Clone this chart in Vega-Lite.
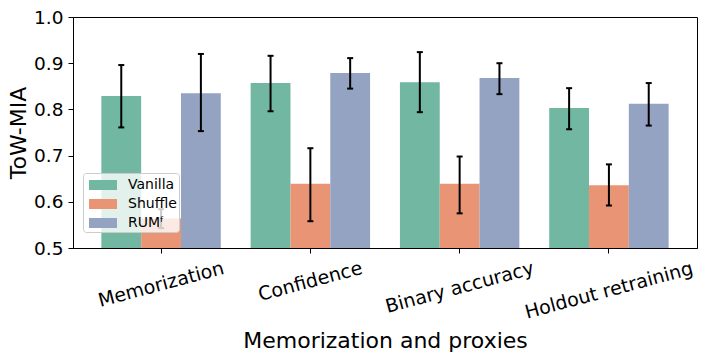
{
  "$schema": "https://vega.github.io/schema/vega-lite/v6.json",
  "width": 624,
  "height": 231,
  "autosize": {"type": "none"},
  "padding": {"left": 73, "top": 17, "right": 10, "bottom": 110},
  "background": "white",
  "config": {
    "font": "DejaVu Sans",
    "view": {"stroke": "black", "strokeWidth": 1},
    "axis": {
      "domainColor": "black",
      "tickColor": "black",
      "labelColor": "black",
      "titleColor": "black",
      "titleFontWeight": "normal",
      "titleFont": "DejaVu Sans",
      "labelFont": "DejaVu Sans",
      "tickSize": 5,
      "grid": false
    }
  },
  "data": {
    "values": [
      {"proxy": "Memorization", "method": "Vanilla", "value": 0.829, "lo": 0.761, "hi": 0.896},
      {"proxy": "Memorization", "method": "Shuffle", "value": 0.564, "lo": 0.543, "hi": 0.584},
      {"proxy": "Memorization", "method": "RUMᶠ", "value": 0.835, "lo": 0.753, "hi": 0.920},
      {"proxy": "Confidence", "method": "Vanilla", "value": 0.857, "lo": 0.796, "hi": 0.916},
      {"proxy": "Confidence", "method": "Shuffle", "value": 0.639, "lo": 0.558, "hi": 0.716},
      {"proxy": "Confidence", "method": "RUMᶠ", "value": 0.879, "lo": 0.845, "hi": 0.911},
      {"proxy": "Binary accuracy", "method": "Vanilla", "value": 0.859, "lo": 0.794, "hi": 0.924},
      {"proxy": "Binary accuracy", "method": "Shuffle", "value": 0.639, "lo": 0.575, "hi": 0.698},
      {"proxy": "Binary accuracy", "method": "RUMᶠ", "value": 0.868, "lo": 0.833, "hi": 0.900},
      {"proxy": "Holdout retraining", "method": "Vanilla", "value": 0.803, "lo": 0.757, "hi": 0.846},
      {"proxy": "Holdout retraining", "method": "Shuffle", "value": 0.636, "lo": 0.592, "hi": 0.681},
      {"proxy": "Holdout retraining", "method": "RUMᶠ", "value": 0.812, "lo": 0.765, "hi": 0.857}
    ]
  },
  "encoding": {
    "x": {
      "field": "proxy",
      "type": "nominal",
      "sort": ["Memorization", "Confidence", "Binary accuracy", "Holdout retraining"],
      "scale": {"paddingInner": 0.2, "paddingOuter": 0.19},
      "axis": {
        "title": "Memorization and proxies",
        "titleFontSize": 22,
        "titleY": 99,
        "titleBaseline": "alphabetic",
        "labelFontSize": 19,
        "labelAngle": -15,
        "labelAlign": "center",
        "labelBaseline": "middle",
        "labelPadding": {"expr": "datum.value == 'Memorization' ? 31 : datum.value == 'Confidence' ? 28 : datum.value == 'Binary accuracy' ? 34 : 37"}
      }
    },
    "xOffset": {
      "field": "method",
      "type": "nominal",
      "sort": ["Vanilla", "Shuffle", "RUMᶠ"],
      "scale": {"paddingInner": 0, "paddingOuter": 0}
    }
  },
  "layer": [
    {
      "mark": {"type": "bar", "opacity": 1},
      "encoding": {
        "y": {
          "field": "value",
          "type": "quantitative",
          "scale": {"domain": [0.5, 1.0], "zero": false},
          "axis": {
            "title": "ToW-MIA",
            "titleFontSize": 22,
            "titleX": -48,
            "titleBaseline": "alphabetic",
            "values": [0.5, 0.6, 0.7, 0.8, 0.9, 1.0],
            "format": ".1f",
            "labelFontSize": 18.5,
            "labelPadding": 5
          }
        },
        "y2": {"datum": 0.5},
        "color": {
          "field": "method",
          "type": "nominal",
          "sort": ["Vanilla", "Shuffle", "RUMᶠ"],
          "scale": {"domain": ["Vanilla", "Shuffle", "RUMᶠ"], "range": ["#71b7a1", "#e99575", "#95a3c3"]},
          "legend": {
            "orient": "none",
            "legendX": 10,
            "legendY": 156,
            "title": null,
            "fillColor": "rgba(255,255,255,0.8)",
            "strokeColor": "#cccccc",
            "cornerRadius": 3,
            "padding": 2,
            "symbolType": "M-0.6,-0.5h2.8v1h-2.8z",
            "symbolSize": 400,
            "symbolStrokeWidth": 0,
            "symbolOpacity": 1,
            "labelFontSize": 14,
            "labelFont": "DejaVu Sans",
            "labelColor": "black",
            "labelOffset": 23,
            "rowPadding": 2
          }
        }
      }
    },
    {
      "mark": {"type": "rule", "color": "black", "strokeWidth": 2},
      "encoding": {
        "y": {"field": "lo", "type": "quantitative"},
        "y2": {"field": "hi"}
      }
    },
    {
      "mark": {"type": "tick", "color": "black", "size": 6, "thickness": 2, "opacity": 1},
      "encoding": {"y": {"field": "lo", "type": "quantitative"}}
    },
    {
      "mark": {"type": "tick", "color": "black", "size": 6, "thickness": 2, "opacity": 1},
      "encoding": {"y": {"field": "hi", "type": "quantitative"}}
    }
  ]
}
